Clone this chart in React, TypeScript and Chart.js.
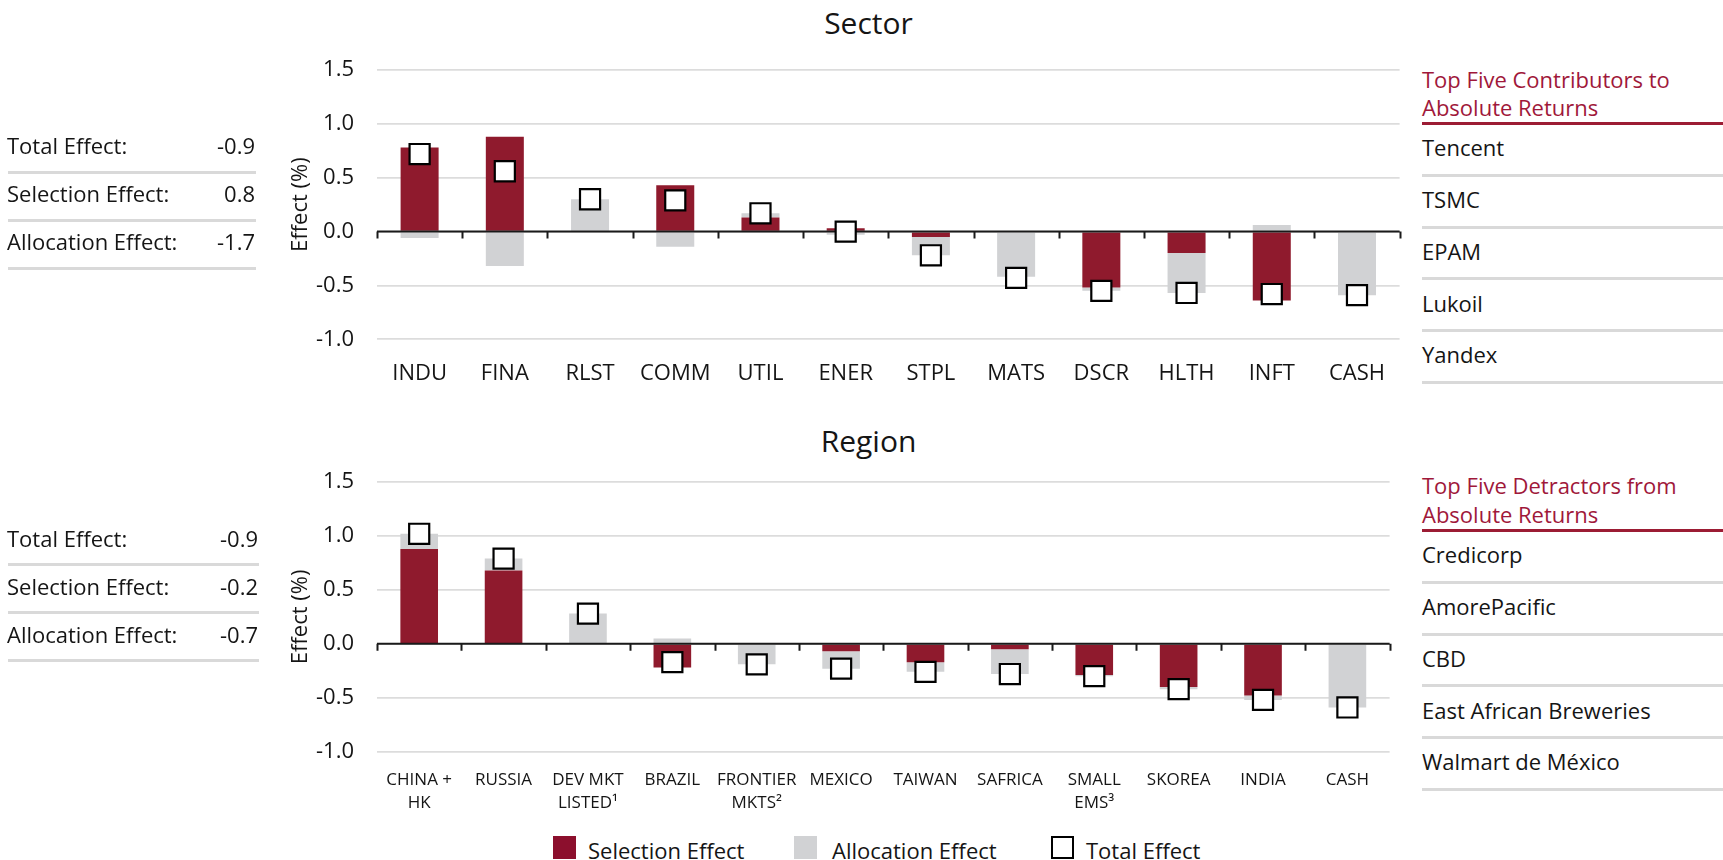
import React, { useEffect, useRef } from 'react';
import { Chart, registerables } from 'chart.js';

Chart.register(...registerables);

const FONT = '"Open Sans", "Noto Sans", sans-serif';
const RED = '#8f1a2d';
const GRAY = '#d1d2d4';
const GRID = '#dcdcdc';
const INK = '#151515';
const ACCENT = '#a0183a';
const RULE = '#d9d9d9';

// Sector attribution (%)
const sectorLabels = ['INDU', 'FINA', 'RLST', 'COMM', 'UTIL', 'ENER', 'STPL', 'MATS', 'DSCR', 'HLTH', 'INFT', 'CASH'];
const sectorSelection = [0.78, 0.88, 0, 0.43, 0.13, 0.03, -0.05, 0, -0.52, -0.2, -0.64, 0];
const sectorAllocation = [-0.06, -0.32, 0.3, -0.14, 0.04, -0.03, -0.17, -0.42, -0.03, -0.37, 0.06, -0.59];
const sectorTotal = [0.72, 0.56, 0.3, 0.29, 0.17, 0.0, -0.22, -0.43, -0.55, -0.57, -0.58, -0.59];

// Region attribution (%)
const regionLabels = [
  ['CHINA +', 'HK'], 'RUSSIA', ['DEV MKT', 'LISTED\u00b9'], 'BRAZIL', ['FRONTIER', 'MKTS\u00b2'],
  'MEXICO', 'TAIWAN', 'SAFRICA', ['SMALL', 'EMS\u00b3'], 'SKOREA', 'INDIA', 'CASH',
];
const regionSelection = [0.88, 0.68, 0, -0.22, 0, -0.07, -0.17, -0.05, -0.29, -0.4, -0.48, 0];
const regionAllocation = [0.14, 0.11, 0.28, 0.05, -0.19, -0.16, -0.09, -0.23, -0.01, -0.02, -0.04, -0.59];
const regionTotal = [1.02, 0.79, 0.28, -0.17, -0.19, -0.23, -0.26, -0.28, -0.3, -0.42, -0.52, -0.59];

// Effect axis range
const yMin = -1.0;
const yMax = 1.5;
const yStep = 0.5;

// Summary panels
const sectorSummary = [
  ['Total Effect:', '-0.9'],
  ['Selection Effect:', '0.8'],
  ['Allocation Effect:', '-1.7'],
];
const regionSummary = [
  ['Total Effect:', '-0.9'],
  ['Selection Effect:', '-0.2'],
  ['Allocation Effect:', '-0.7'],
];

const contributorsTitle = ['Top Five Contributors to', 'Absolute Returns'];
const contributors = ['Tencent', 'TSMC', 'EPAM', 'Lukoil', 'Yandex'];
const detractorsTitle = ['Top Five Detractors from', 'Absolute Returns'];
const detractors = ['Credicorp', 'AmorePacific', 'CBD', 'East African Breweries', 'Walmart de México'];

const legendItems = [
  { label: 'Selection Effect', fill: '#8c0f2d', border: 'none', x: 553, tx: 588 },
  { label: 'Allocation Effect', fill: GRAY, border: 'none', x: 794, tx: 832 },
  { label: 'Total Effect', fill: '#fff', border: '2px solid #000', x: 1051, tx: 1086 },
];

// Dark zero line with boundary tick marks, drawn over the bars and under the total markers
const zeroAxis = {
  id: 'zeroAxis',
  afterDatasetDraw(chart: any, args: any) {
    if (args.index !== 0) return;
    const { ctx, chartArea, scales } = chart;
    const y0 = scales.y.getPixelForValue(0);
    const n = chart.data.labels.length;
    ctx.save();
    ctx.strokeStyle = '#1a1a1a';
    ctx.lineWidth = 2;
    ctx.beginPath();
    ctx.moveTo(chartArea.left, y0);
    ctx.lineTo(chartArea.right, y0);
    for (let i = 0; i <= n; i++) {
      const x = Math.round(scales.x.getPixelForValue(i - 0.5)) + 0.5;
      ctx.moveTo(x, y0);
      ctx.lineTo(x, y0 + 7);
    }
    ctx.stroke();
    ctx.restore();
  },
};

function makeConfig(
  labels: any[],
  selection: number[],
  allocation: number[],
  total: number[],
  o: { padTop: number; padRight: number; xHeight: number; xSize: number; xLine: number; xPad: number }
): any {
  return {
    type: 'bar',
    data: {
      labels,
      datasets: [
        {
          type: 'bar',
          label: 'Selection Effect',
          data: selection,
          backgroundColor: RED,
          order: 1,
          categoryPercentage: 1,
          barPercentage: 0.446,
        },
        {
          type: 'bar',
          label: 'Allocation Effect',
          data: allocation,
          backgroundColor: GRAY,
          order: 2,
          categoryPercentage: 1,
          barPercentage: 0.446,
        },
        {
          type: 'line',
          label: 'Total Effect',
          data: total,
          showLine: false,
          order: 0,
          pointStyle: 'rect',
          pointRadius: 14.2,
          pointHoverRadius: 14.2,
          pointBackgroundColor: '#ffffff',
          pointBorderColor: '#000000',
          pointBorderWidth: 2.2,
        },
      ],
    },
    options: {
      responsive: false,
      maintainAspectRatio: false,
      animation: false,
      devicePixelRatio: 1,
      layout: { padding: { top: o.padTop, right: o.padRight, bottom: 0, left: 0 } },
      plugins: { legend: { display: false }, tooltip: { enabled: false }, title: { display: false } },
      scales: {
        x: {
          stacked: true,
          offset: true,
          grid: { display: false },
          border: { display: false },
          ticks: {
            color: INK,
            font: { family: FONT, size: o.xSize, lineHeight: o.xLine },
            padding: o.xPad,
            autoSkip: false,
            maxRotation: 0,
            minRotation: 0,
          },
          afterFit: (s: any) => {
            s.height = o.xHeight;
            s.paddingLeft = 0;
            s.paddingRight = 0;
          },
        },
        y: {
          stacked: true,
          min: yMin,
          max: yMax,
          grid: { color: GRID, lineWidth: 1.7, drawTicks: false },
          border: { display: false },
          ticks: {
            stepSize: yStep,
            padding: 23,
            color: INK,
            font: { family: FONT, size: 22 },
            callback: (v: any) => Number(v).toFixed(1),
          },
          title: {
            display: true,
            text: 'Effect (%)',
            color: INK,
            font: { family: FONT, size: 22 },
            padding: { top: 28, bottom: 0 },
          },
          afterFit: (s: any) => {
            s.width = 117;
          },
        },
      },
    },
    plugins: [zeroAxis],
  };
}

function ChartBox({ left, top, width, height, config }: any) {
  const ref = useRef<HTMLCanvasElement | null>(null);
  useEffect(() => {
    if (!ref.current) return;
    const chart = new Chart(ref.current, config);
    return () => chart.destroy();
  }, [config]);
  return (
    <div style={{ position: 'absolute', left, top, width, height }}>
      <canvas ref={ref} width={width} height={height} style={{ width, height, display: 'block' }} />
    </div>
  );
}

// Text placed by its baseline (Open Sans metrics)
function Txt({ x, baseline, size = 22, color = INK, align = 'left', w = 400, children }: any) {
  const top = baseline - 0.888 * size;
  const left = align === 'right' ? x - w : align === 'center' ? x - w / 2 : x;
  return (
    <div
      style={{
        position: 'absolute',
        left,
        top,
        width: w,
        fontFamily: FONT,
        fontSize: size,
        lineHeight: `${size}px`,
        color,
        textAlign: align,
        whiteSpace: 'nowrap',
      }}
    >
      {children}
    </div>
  );
}

function Rule({ x1, x2, y, color = RULE, h = 3 }: any) {
  return <div style={{ position: 'absolute', left: x1, top: y - h / 2, width: x2 - x1, height: h, background: color }} />;
}

function Summary({ rows, firstBaseline, valueRight, lineRight }: any) {
  return (
    <>
      {rows.map((r: string[], i: number) => (
        <React.Fragment key={r[0]}>
          <Txt x={7} baseline={firstBaseline + i * 48}>{r[0]}</Txt>
          <Txt x={valueRight} baseline={firstBaseline + i * 48} align="right" w={80}>{r[1]}</Txt>
          <Rule x1={8} x2={lineRight} y={firstBaseline + 18 + i * 48} />
        </React.Fragment>
      ))}
    </>
  );
}

function TopList({ title, items, titleBaseline, redLine, firstBaseline, pitch }: any) {
  return (
    <>
      {title.map((t: string, i: number) => (
        <Txt key={t} x={1422} baseline={titleBaseline + i * 28.4} color={ACCENT}>{t}</Txt>
      ))}
      <Rule x1={1422} x2={1723} y={redLine} color="#9c1c34" h={3} />
      {items.map((t: string, i: number) => (
        <React.Fragment key={t}>
          <Txt x={1422} baseline={firstBaseline + i * pitch}>{t}</Txt>
          <Rule x1={1422} x2={1723} y={firstBaseline + 19.5 + i * pitch} />
        </React.Fragment>
      ))}
    </>
  );
}

const sectorConfig = makeConfig(sectorLabels, sectorSelection, sectorAllocation, sectorTotal, {
  padTop: 70,
  padRight: 10,
  xHeight: 60.7,
  xSize: 22,
  xLine: 1.2,
  xPad: 13,
});

const regionConfig = makeConfig(regionLabels, regionSelection, regionAllocation, regionTotal, {
  padTop: 82,
  padRight: 13,
  xHeight: 68.3,
  xSize: 17,
  xLine: 23 / 17,
  xPad: 8.5,
});

export default function App() {
  return (
    <div style={{ position: 'absolute', left: 0, top: 0, width: 1723, height: 860, overflow: 'hidden', background: '#fff' }}>
      <Txt x={868.5} baseline={35} size={30} align="center" w={300}>Sector</Txt>
      <Txt x={868.5} baseline={452.3} size={30} align="center" w={300}>Region</Txt>

      <ChartBox left={260} top={0} width={1156} height={400} config={sectorConfig} />
      <ChartBox left={260} top={400} width={1146} height={420} config={regionConfig} />

      <Summary rows={sectorSummary} firstBaseline={154} valueRight={255} lineRight={256} />
      <Summary rows={regionSummary} firstBaseline={546.5} valueRight={258} lineRight={259} />

      <TopList title={contributorsTitle} items={contributors} titleBaseline={87.3} redLine={123.7} firstBaseline={156} pitch={51.7} />
      <TopList title={detractorsTitle} items={detractors} titleBaseline={494} redLine={530} firstBaseline={562.7} pitch={51.8} />

      {legendItems.map((it) => (
        <React.Fragment key={it.label}>
          <div
            style={{
              position: 'absolute',
              left: it.x,
              top: 836,
              width: 23,
              height: 23,
              boxSizing: 'border-box',
              background: it.fill,
              border: it.border,
            }}
          />
          <Txt x={it.tx} baseline={859}>{it.label}</Txt>
        </React.Fragment>
      ))}
    </div>
  );
}
